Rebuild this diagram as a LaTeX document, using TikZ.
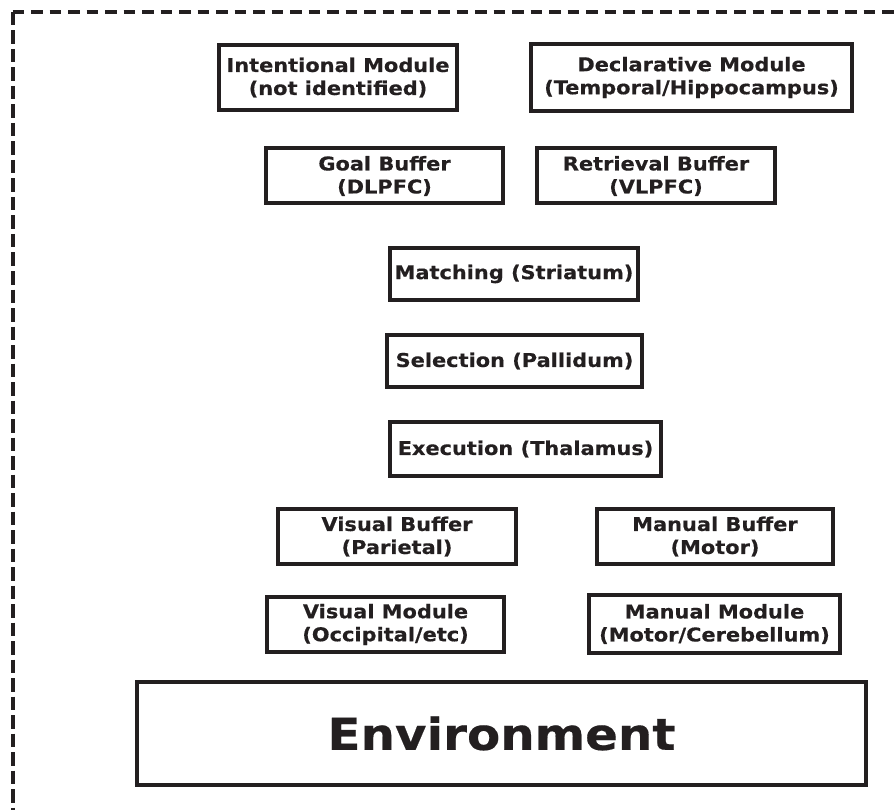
\documentclass[tikz,border=0pt]{standalone}
\usepackage{fontspec}
\newfontfamily\boxfont{DejaVu Sans}[FakeStretch=1.1, FakeBold=0.4]
\definecolor{ink}{HTML}{231F20}
\begin{document}
\begin{tikzpicture}[x=1pt,y=-1pt,
  box/.style={draw=ink, line width=4pt, text=ink, align=center,
    inner sep=0pt, font=\boxfont\bfseries\fontsize{19}{23}\selectfont},
  border/.style={draw=ink, line width=4pt}]
\useasboundingbox (0,0) rectangle (896,810);

% dashed frame (continues past the right and bottom edges)
\begin{scope}
\clip (0,0) rectangle (896,810);
\coordinate (fcorner) at (12.5,12);
\coordinate (fbottom) at (12.5,830);
\coordinate (fright) at (920,12);
\draw[border, dash pattern=on 13.5pt off 5pt] (fcorner) -- (fbottom);
\draw[border, dash pattern=on 11.5pt off 7pt] (fcorner) -- (fright);
\end{scope}

% modules and buffers
\node[box, minimum width=238.5pt, minimum height=65.5pt] (intent) at (338,77.5)
  {Intentional Module\\(not identified)};
\node[box, minimum width=321.5pt, minimum height=67.5pt] (decl) at (691.5,77.5)
  {Declarative Module\\(Temporal/Hippocampus)};
\node[box, minimum width=237.5pt, minimum height=55pt] (goal) at (384.5,176)
  {Goal Buffer\\(DLPFC)};
\node[box, minimum width=238.5pt, minimum height=55pt] (retr) at (656,176)
  {Retrieval Buffer\\(VLPFC)};
\node[box, minimum width=248.5pt, minimum height=52.5pt] (match) at (514,274)
  {Matching (Striatum)};
\node[box, minimum width=255.5pt, minimum height=52.5pt] (select) at (514.5,361)
  {Selection (Pallidum)};
\node[box, minimum width=271.5pt, minimum height=54.5pt] (exec) at (525.5,449)
  {Execution (Thalamus)};
\node[box, minimum width=238.5pt, minimum height=55.5pt] (visbuf) at (397,536.5)
  {Visual Buffer\\(Parietal)};
\node[box, minimum width=236.5pt, minimum height=55.5pt] (manbuf) at (715,536.5)
  {Manual Buffer\\(Motor)};
\node[box, minimum width=237.5pt, minimum height=55.5pt] (vismod) at (385.5,624.5)
  {Visual Module\\(Occipital/etc)};
\node[box, minimum width=251.5pt, minimum height=58.5pt] (manmod) at (714.5,624)
  {Manual Module\\(Motor/Cerebellum)};
\node[box, minimum width=729.5pt, minimum height=103.5pt,
  font=\boxfont\bfseries\fontsize{44}{52}\selectfont] (env) at (501.5,733.5)
  {Environment};
\end{tikzpicture}
\end{document}
